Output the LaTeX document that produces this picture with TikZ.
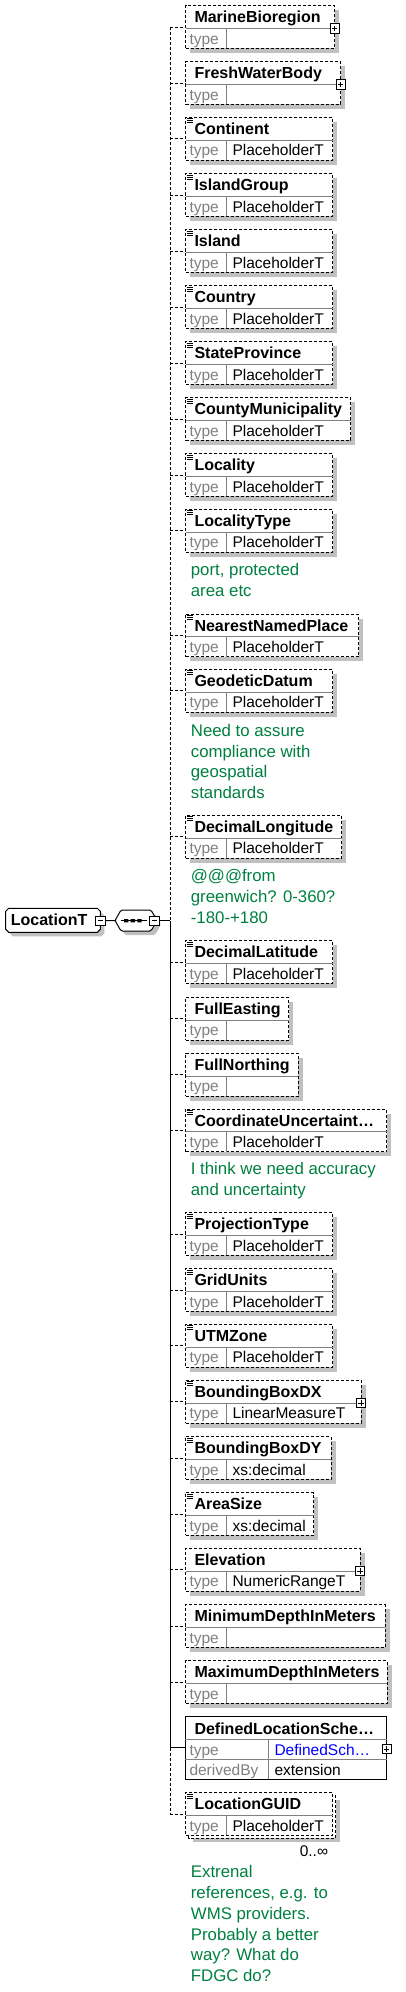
\documentclass[tikz,border=0pt]{standalone}
\usepackage{fontspec}
\setmainfont{Liberation Sans}
\definecolor{annogreen}{RGB}{0,128,64}
\definecolor{typegray}{RGB}{128,128,128}
\definecolor{shadowc}{RGB}{192,192,192}
\definecolor{linkblue}{RGB}{0,0,255}
\tikzset{
 elbox/.style={draw, dash pattern=on 3pt off 2pt, line width=1pt, fill=white, rectangle, inner sep=0pt, outer sep=0pt, minimum height=42.7pt},
 dsh/.style={draw, dash pattern=on 3pt off 2pt, line width=1pt},
 divc/.style={draw=typegray, line width=1pt},
 nm/.style={font=\bfseries\fontsize{16}{19}\selectfont, inner sep=0pt},
 tp/.style={font=\fontsize{15.5}{18}\selectfont, text=typegray, inner sep=0pt},
 val/.style={font=\fontsize{15.5}{18}\selectfont, inner sep=0pt},
 anno/.style={font=\fontsize{16.8}{20.8}\selectfont, text=annogreen, align=left, inner sep=0pt},
 conn/.style={line width=1pt, dash pattern=on 3pt off 2pt},
 sconn/.style={line width=1pt},
}
\newcommand\docic[1]{\draw[line width=1pt] (186.5,#1+1.5) -- ++(6.5,0) (186.5,#1+3.5) -- ++(6.5,0) (186.5,#1+5.5) -- ++(6.5,0);}
\newcommand\plusic[2]{\draw[line width=1pt, fill=white] (#1-4.7,#2-4.7) rectangle (#1+4.7,#2+4.7);
  \draw[line width=1pt] (#1-2.7,#2) -- (#1+2.7,#2) (#1,#2-2.7) -- (#1,#2+2.7);}
\newcommand\minusic[2]{\draw[line width=1pt, fill=white] (#1-4.7,#2-4.7) rectangle (#1+4.7,#2+4.7);
  \draw[line width=1pt] (#1-2.7,#2) -- (#1+2.7,#2);}
\newcommand\xelem[8]{%
  \pgfmathsetmacro\elw{#3-185.7}%
  \ifnum#8=1\relax
    \fill[shadowc] (192.7,#2+7) rectangle (#3+7,#2+49.7);
    \draw[dsh, fill=white] (188.7,#2+3) rectangle (#3+3,#2+45.7);
  \else
    \fill[shadowc] (190.2,#2+4.5) rectangle (#3+4.5,#2+47.2);
  \fi
  \node[elbox, minimum width=\elw pt, anchor=north west] (#1) at (185.7,#2) {};
  \draw[divc] (185.7,#2+22.7) -- (#3,#2+22.7);
  \draw[divc] (226.3,#2+22.7) -- (226.3,#2+42.7);
  \node[nm, anchor=base west] (#1t) at (194.3,#2+17) {#4};
  \node[tp, anchor=base west] (#1k) at (189.3,#2+38.5) {type};
  \node[val, anchor=base west] (#1v) at (232.3,#2+38.5) {#5};
  \ifnum#6=1\relax \docic{#2}\fi
  \ifnum#7=1\relax \plusic{#3}{#2+22.7}\fi
}
\begin{document}
\begin{tikzpicture}[x=1pt,y=-1pt]
\useasboundingbox (0,0) rectangle (406,1992);
\fill[white] (0,0) rectangle (406,1992);

% root type
\fill[shadowc, xshift=4pt, yshift=-4pt] (8.7,908.3) -- (97.3,908.3) -- (100.3,911.3) -- (100.3,929.3) -- (97.3,932.3) -- (8.7,932.3) -- (5.7,929.3) -- (5.7,911.3) -- cycle;
\draw[line width=1pt, fill=white] (8.7,908.3) -- (97.3,908.3) -- (100.3,911.3) -- (100.3,929.3) -- (97.3,932.3) -- (8.7,932.3) -- (5.7,929.3) -- (5.7,911.3) -- cycle;
\node[nm, anchor=base west] (loct) at (10.7,925.7) {LocationT};
\coordinate (m1) at (100.5,920.7);
\minusic{100.5}{920.7}

% sequence compositor
\fill[shadowc, xshift=4pt, yshift=-4pt, rounded corners=1.5pt] (115,920.5) -- (121,910) -- (151,910) -- (157,920.5) -- (151,931) -- (121,931) -- cycle;
\draw[line width=1pt, fill=white, rounded corners=1.5pt] (115,920.5) -- (121,910) -- (151,910) -- (157,920.5) -- (151,931) -- (121,931) -- cycle;
\node[inner sep=0pt, minimum width=42pt, minimum height=21pt] (seq) at (136,920.5) {};
\draw[line width=1pt] (120.7,920.7) -- (146.7,920.7);
\fill (124,919) rectangle (128.3,922.4) (130.7,919) rectangle (135,922.4) (137.3,919) rectangle (141.7,922.4);
\coordinate (m2) at (154.6,920.7);
\minusic{154.6}{920.7}
\coordinate (spine) at (170.3,920.7);

% elements
\xelem{e1}{5.7}{334.7}{MarineBioregion}{}{0}{1}{0}
\xelem{e2}{61.7}{340.7}{FreshWaterBody}{}{0}{1}{0}
\xelem{e3}{117.3}{332.7}{Continent}{PlaceholderT}{1}{0}{0}
\xelem{e4}{173.7}{332.7}{IslandGroup}{PlaceholderT}{1}{0}{0}
\xelem{e5}{229.7}{332.7}{Island}{PlaceholderT}{1}{0}{0}
\xelem{e6}{285.7}{332.7}{Country}{PlaceholderT}{1}{0}{0}
\xelem{e7}{341.7}{332.7}{StateProvince}{PlaceholderT}{1}{0}{0}
\xelem{e8}{397.7}{350.7}{CountyMunicipality}{PlaceholderT}{1}{0}{0}
\xelem{e9}{453.7}{332.7}{Locality}{PlaceholderT}{1}{0}{0}
\xelem{e10}{509.3}{332.7}{LocalityType}{PlaceholderT}{1}{0}{0}
\xelem{e11}{614}{358.7}{NearestNamedPlace}{PlaceholderT}{1}{0}{0}
\xelem{e12}{669.3}{332.7}{GeodeticDatum}{PlaceholderT}{1}{0}{0}
\xelem{e13}{815.3}{341.7}{DecimalLongitude}{PlaceholderT}{1}{0}{0}
\xelem{e14}{940.7}{332.7}{DecimalLatitude}{PlaceholderT}{1}{0}{0}
\xelem{e15}{997.3}{288.7}{FullEasting}{}{0}{0}{0}
\xelem{e16}{1053.3}{298.3}{FullNorthing}{}{0}{0}{0}
\xelem{e17}{1109}{386.7}{CoordinateUncertaint…}{PlaceholderT}{1}{0}{0}
\xelem{e18}{1212.7}{332.7}{ProjectionType}{PlaceholderT}{1}{0}{0}
\xelem{e19}{1268.7}{332.7}{GridUnits}{PlaceholderT}{1}{0}{0}
\xelem{e20}{1324.3}{332.7}{UTMZone}{PlaceholderT}{1}{0}{0}
\xelem{e21}{1380.3}{361}{BoundingBoxDX}{LinearMeasureT}{1}{1}{0}
\xelem{e22}{1436.7}{331}{BoundingBoxDY}{xs:decimal}{1}{0}{0}
\xelem{e23}{1492.7}{313.7}{AreaSize}{xs:decimal}{1}{0}{0}
\xelem{e24}{1548.3}{360}{Elevation}{NumericRangeT}{0}{1}{0}
\xelem{e25}{1604.7}{385}{MinimumDepthInMeters}{}{0}{0}{0}
\xelem{e26}{1660.7}{387}{MaximumDepthInMeters}{}{0}{0}{0}
\xelem{e28}{1792.7}{332.7}{LocationGUID}{PlaceholderT}{1}{0}{1}

% mandatory element with derivation
\node[draw, line width=1pt, fill=white, rectangle, inner sep=0pt, outer sep=0pt, minimum width=201.4pt, minimum height=63pt, anchor=north west] (e27) at (185.3,1716.3) {};
\draw[divc] (185.3,1739.3) -- (386.7,1739.3) (185.3,1759.3) -- (386.7,1759.3) (268.7,1739.3) -- (268.7,1779.3);
\node[nm, anchor=base west] (e27t) at (194.3,1734) {DefinedLocationSche…};
\node[tp, anchor=base west] (e27k) at (189.3,1755) {type};
\node[val, text=linkblue, anchor=base west] (e27v) at (274.3,1755) {DefinedSch…};
\node[tp, anchor=base west] (e27d) at (189.3,1775) {derivedBy};
\node[val, anchor=base west] (e27x) at (274.3,1775) {extension};
\plusic{386.7}{1749}

% occurrence
\node[val, anchor=base east] (occ) at (328.3,1856.5) {0..∞};

% annotations (anchored at the baseline of the last line)
\node[anno, anchor=base west] (a10) at (190.7,596.7) {port, protected\\area etc};
\node[anno, anchor=base west] (a12) at (190.7,798.7) {Need to assure\\compliance with\\geospatial\\standards};
\node[anno, anchor=base west] (a13) at (190.7,923.3) {@@@from\\greenwich? 0-360?\\-180-+180};
\node[anno, anchor=base west] (a17) at (190.7,1195.7) {I think we need accuracy\\and uncertainty};
\node[anno, anchor=base west] (a28) at (190.7,1981.7) {Extrenal\\references, e.g. to\\WMS providers.\\Probably a better\\way? What do\\FDGC do?};

% connectors
\draw[sconn] ([xshift=4.7pt]m1) -- (seq.west);
\draw[sconn] ([xshift=4.7pt]m2) -- (spine);
\draw[conn] (e1.west -| spine) -- (spine);
\draw[sconn] (spine) -- (e27.west -| spine);
\draw[conn] (e27.west -| spine) -- (e28.west -| spine);
\foreach \i in {1,...,26,28} \draw[conn] (e\i.west -| spine) -- (e\i.west);
\draw[sconn] (e27.west -| spine) -- (e27.west);
\end{tikzpicture}
\end{document}
